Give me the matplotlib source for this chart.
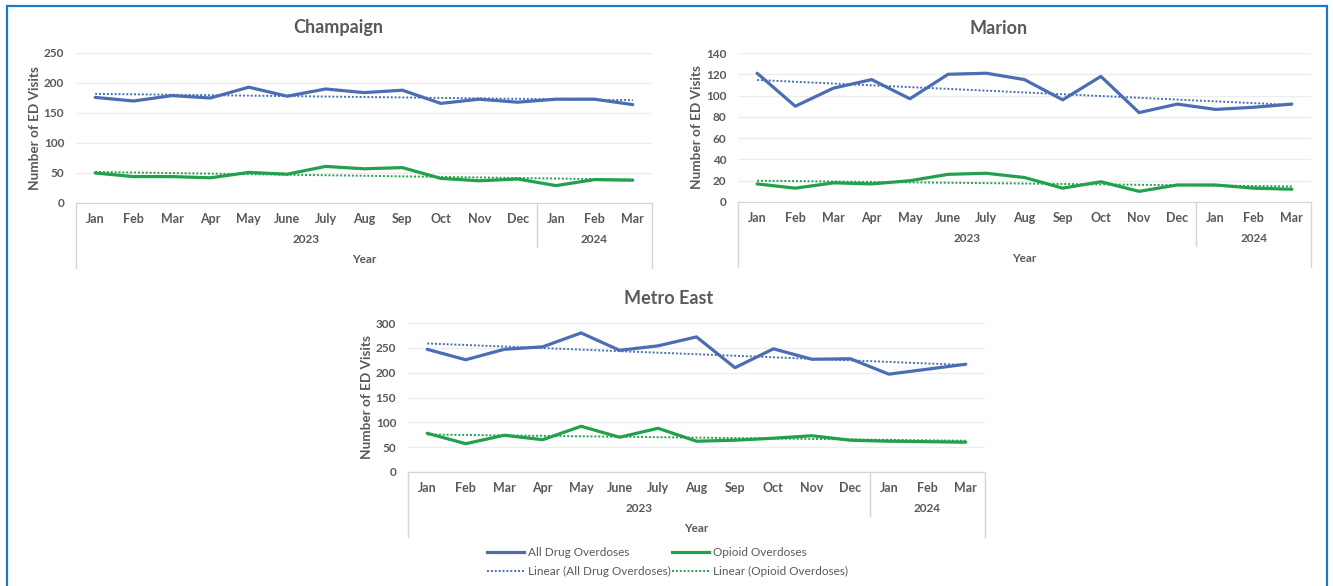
import numpy as np
import matplotlib
matplotlib.use("Agg")
import matplotlib.pyplot as plt
from matplotlib.lines import Line2D
from matplotlib.patches import Rectangle
from matplotlib.transforms import blended_transform_factory

plt.rcParams['font.family'] = ['Lato', 'DejaVu Sans']

months = ['Jan', 'Feb', 'Mar', 'Apr', 'May', 'June', 'July', 'Aug', 'Sep',
          'Oct', 'Nov', 'Dec', 'Jan', 'Feb', 'Mar']
years = ['2023', '2024']

champaign_all = [176, 170, 179, 175, 193, 178, 190, 184, 188, 166, 173, 168, 173, 173, 164]
champaign_opioid = [50, 44, 44, 42, 51, 48, 61, 57, 59, 41, 37, 40, 29, 39, 38]

marion_all = [121, 90, 107, 115, 97, 120, 121, 115, 96, 118, 84, 92, 87, 89, 92]
marion_opioid = [17, 13, 18, 17, 20, 26, 27, 23, 13, 19, 10, 16, 16, 13, 12]

metro_all = [247, 226, 247, 252, 280, 245, 254, 272, 210, 248, 227, 228, 197, 207, 217]
metro_opioid = [78, 57, 74, 65, 92, 70, 88, 62, 64, 68, 73, 64, 62, 61, 60]

BLUE = '#4A6DB3'
GREEN = '#22A04C'
TXT = '#595959'
GRID = '#EDEDED'
AXLINE = '#D6D6D6'

W, H = 1333, 586
fig = plt.figure(figsize=(W / 100, H / 100), dpi=100)


def box(x0, y0, x1, y1):
    return [x0 / W, 1 - y1 / H, (x1 - x0) / W, (y1 - y0) / H]


def panel(rect, name, title_x, all_vals, opioid_vals, ymax, step):
    x0, y0, x1, y1 = rect
    hpx = y1 - y0
    ax = fig.add_axes(box(*rect))
    x = np.arange(len(months))

    ax.plot(x, all_vals, color=BLUE, lw=2.3, solid_capstyle='round', zorder=3)
    ax.plot(x, opioid_vals, color=GREEN, lw=2.3, solid_capstyle='round', zorder=3)
    # linear trend lines
    for vals, c in [(all_vals, BLUE), (opioid_vals, GREEN)]:
        k, b = np.polyfit(x, vals, 1)
        ax.plot([x[0], x[-1]], [k * x[0] + b, k * x[-1] + b], color=c,
                lw=1.4, ls=(0, (1, 1)), zorder=4)

    ax.set_xlim(-0.5, len(months) - 0.5)
    ax.set_ylim(0, ymax)
    ax.set_yticks(range(0, ymax + 1, step))
    ax.set_xticks([])
    ax.grid(axis='y', color=GRID, lw=1)
    ax.set_axisbelow(True)
    for s in ['top', 'right', 'left']:
        ax.spines[s].set_visible(False)
    ax.spines['bottom'].set_color(AXLINE)
    ax.tick_params(axis='y', length=0, pad=8.5, labelsize=8.5, labelcolor=TXT)
    for lab in ax.get_yticklabels():
        lab.set_fontweight('bold')

    # two-level category axis: months, then years, then axis title
    tr = blended_transform_factory(ax.transData, ax.transAxes)
    for i, m in enumerate(months):
        ax.text(i, -16 / hpx, m, transform=tr, ha='center', va='center',
                fontsize=9, fontweight='bold', color=TXT)
    ax.text(5.5, -37 / hpx, years[0], transform=tr, ha='center', va='center',
            fontsize=8.5, fontweight='bold', color=TXT)
    ax.text(13, -37 / hpx, years[1], transform=tr, ha='center', va='center',
            fontsize=8.5, fontweight='bold', color=TXT)
    ax.text(7, -57 / hpx, 'Year', transform=tr, ha='center', va='center',
            fontsize=8.5, fontweight='bold', color=TXT)
    for xv, depth in [(-0.5, 65), (11.5, 44), (len(months) - 0.5, 65)]:
        ax.plot([xv, xv], [0, -depth / hpx], transform=tr, color=AXLINE,
                lw=1, clip_on=False)

    ax.text(-41 / (x1 - x0), 0.5, 'Number of ED Visits', transform=ax.transAxes,
            rotation=90, ha='center', va='center', fontsize=9.8,
            fontweight='bold', color=TXT)
    fig.text(title_x / W, 1 - (y0 - 25) / H, name, ha='center',
             va='center', fontsize=13, fontweight='bold', color=TXT)
    return ax


panel((76, 53, 652, 203), 'Champaign', 338, champaign_all, champaign_opioid, 250, 50)
panel((738, 53, 1311, 202), 'Marion', 999, marion_all, marion_opioid, 140, 20)
panel((408, 323, 985, 472), 'Metro East', 669, metro_all, metro_opioid, 300, 50)

# legend under Metro East
legend_rows = [
    (487, 552, BLUE, '-', 2.3, 'All Drug Overdoses'),
    (672, 552, GREEN, '-', 2.3, 'Opioid Overdoses'),
    (487, 571, BLUE, (0, (1, 1)), 1.4, 'Linear (All Drug Overdoses)'),
    (672, 571, GREEN, (0, (1, 1)), 1.4, 'Linear (Opioid Overdoses)'),
]
for lx, ly, c, ls, lw, label in legend_rows:
    fig.add_artist(Line2D([lx / W, (lx + 37) / W], [1 - ly / H, 1 - ly / H],
                          color=c, ls=ls, lw=lw, transform=fig.transFigure))
    fig.text((lx + 41) / W, 1 - ly / H, label, ha='left', va='center',
             fontsize=8.5, color=TXT)

fig.add_artist(Rectangle((6.5 / W, -0.05), 1320 / W, 1.05 - 6.5 / H,
                         transform=fig.transFigure, fill=False,
                         edgecolor='#1F77C9', lw=1.6))

fig.savefig('out.png', dpi=100)
